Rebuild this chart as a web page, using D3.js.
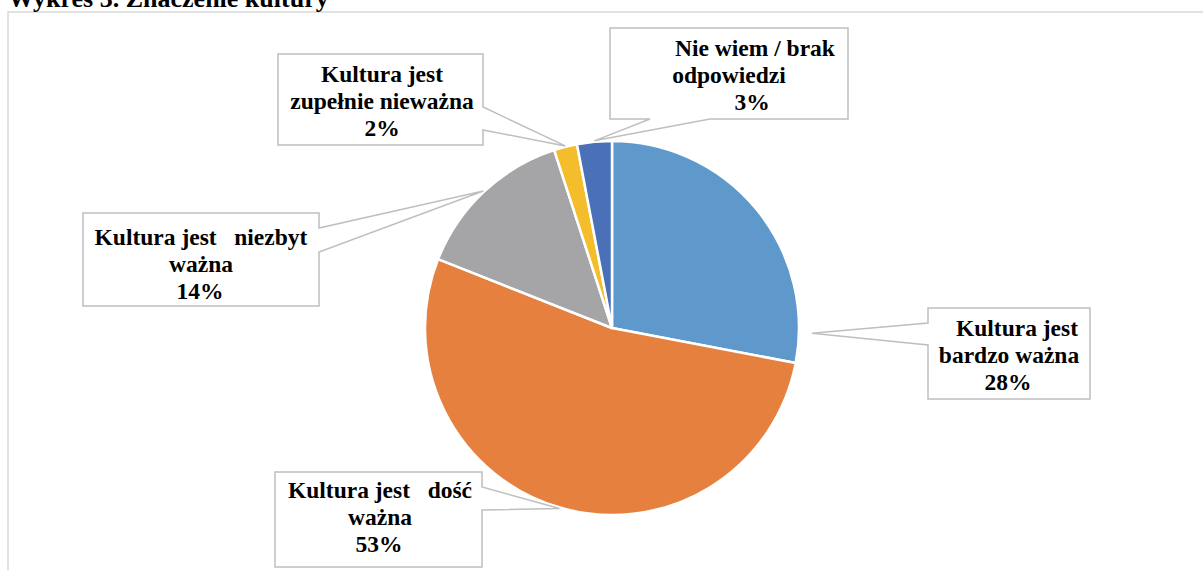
<!DOCTYPE html>
<html>
<head>
<meta charset="utf-8">
<script src="https://cdn.jsdelivr.net/npm/d3@7"></script>
<style>
  html, body { margin: 0; padding: 0; background: #fff; overflow: hidden; }
  svg { display: block; font-family: 'Liberation Serif', 'Times New Roman', serif; }
</style>
</head>
<body>
<svg width="1203" height="570"></svg>
<script>
// data
const title = 'Wykres 3. Znaczenie kultury';
const categories = [
  ['Kultura jest', 'bardzo ważna'],
  ['Kultura jest   dość', 'ważna'],
  ['Kultura jest   niezbyt', 'ważna'],
  ['Kultura jest', 'zupełnie nieważna'],
  ['Nie wiem / brak', 'odpowiedzi']
];
const values = [28, 53, 14, 2, 3];
const colors = ['#5f99cc', '#e6803f', '#a5a5a7', '#f4bd2c', '#4a70b8'];

// callout boxes (layout only)
const callouts = [
  {x0: 928, y0: 308, x1: 1090, y1: 399, side: 'left', w0: 323, w1: 345, tip: [91.5, 200], lx: [1017, 1009, 1008], ty: 336},
  {x0: 275, y0: 472, x1: 482, y1: 567, side: 'right', w0: 487, w1: 510, lx: [380, 380, 379], ty: 498},
  {x0: 83, y0: 213, x1: 319, y1: 306, side: 'right', w0: 228, w1: 252, lx: [201, 201, 200], ty: 245},
  {x0: 278, y0: 54, x1: 483, y1: 145, side: 'right', w0: 107, w1: 130, lx: [382, 382, 382], ty: 82},
  {x0: 610, y0: 28, x1: 848, y1: 119, side: 'bottom', w0: 650, w1: 710, lx: [755, 729, 752], ty: 56}
];

const width = 1203, height = 570;
const cx = 612, cy = 328, radius = 187;
const lineH = 27;

const svg = d3.select('svg');

svg.append('rect')
    .attr('x', 8).attr('y', 12)
    .attr('width', 1210).attr('height', 580)
    .attr('fill', '#fff')
    .attr('stroke', '#d9d9d9')
    .attr('stroke-width', 1.5);

svg.append('text')
    .attr('x', 8).attr('y', 7)
    .attr('font-size', 26)
    .attr('font-weight', 'bold')
    .attr('fill', '#000')
    .text(title);

const pie = d3.pie().sort(null).value(d => d);
const arcs = pie(values);
const arc = d3.arc().innerRadius(0).outerRadius(radius);

const g = svg.append('g').attr('transform', `translate(${cx},${cy})`);

g.selectAll('path')
  .data(arcs)
  .join('path')
    .attr('d', arc)
    .attr('fill', (d, i) => colors[i])
    .attr('stroke', '#fff')
    .attr('stroke-width', 2.5)
    .attr('stroke-linejoin', 'round');

function tipPoint(d, i) {
  const c = callouts[i];
  let p;
  if (c.tip) p = d3.pointRadial(c.tip[0] * Math.PI / 180, c.tip[1]);
  else p = d3.pointRadial((d.startAngle + d.endAngle) / 2, radius + 1);
  return [cx + p[0], cy + p[1]];
}

function calloutPath(c, tip) {
  const p = d3.path();
  p.moveTo(c.x0, c.y0);
  p.lineTo(c.x1, c.y0);
  if (c.side === 'right') {
    p.lineTo(c.x1, c.w0);
    p.lineTo(tip[0], tip[1]);
    p.lineTo(c.x1, c.w1);
  }
  p.lineTo(c.x1, c.y1);
  if (c.side === 'bottom') {
    p.lineTo(c.w1, c.y1);
    p.lineTo(tip[0], tip[1]);
    p.lineTo(c.w0, c.y1);
  }
  p.lineTo(c.x0, c.y1);
  if (c.side === 'left') {
    p.lineTo(c.x0, c.w1);
    p.lineTo(tip[0], tip[1]);
    p.lineTo(c.x0, c.w0);
  }
  p.closePath();
  return p.toString();
}

const labels = svg.append('g')
  .selectAll('g')
  .data(arcs)
  .join('g');

labels.append('path')
    .attr('d', (d, i) => calloutPath(callouts[i], tipPoint(d, i)))
    .attr('fill', '#fff')
    .attr('stroke', '#bfbfbf')
    .attr('stroke-width', 1.5)
    .attr('stroke-linejoin', 'miter');

labels.each(function(d, i) {
  const c = callouts[i];
  const lines = [...categories[i], d3.format('.0f')(values[i]) + '%'];
  d3.select(this).selectAll('text')
    .data(lines)
    .join('text')
      .attr('x', (t, j) => c.lx[j])
      .attr('y', (t, j) => c.ty + j * lineH)
      .attr('text-anchor', 'middle')
      .attr('font-size', 23.5)
      .attr('font-weight', 'bold')
      .attr('fill', '#000')
      .style('white-space', 'pre')
      .text(t => t);
});
</script>
</body>
</html>
